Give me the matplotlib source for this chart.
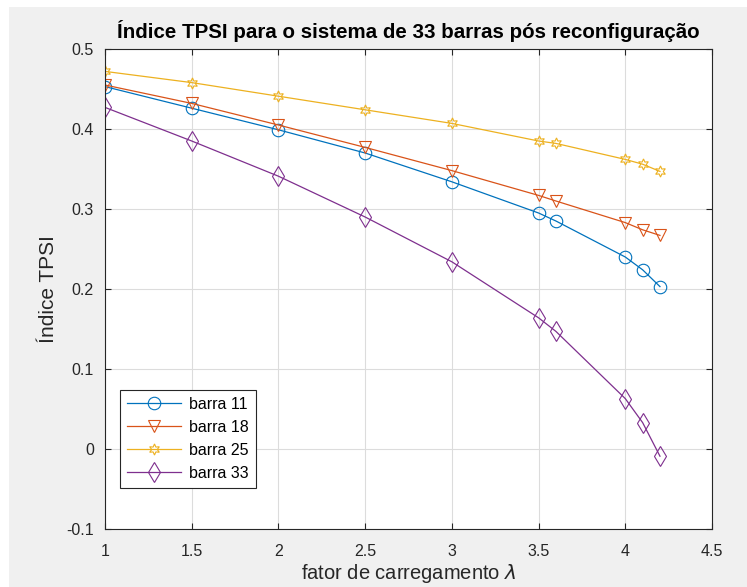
import matplotlib.pyplot as plt
from matplotlib.patches import Rectangle

# fator de carregamento (lambda)
lam = [1, 1.5, 2, 2.5, 3, 3.5, 3.6, 4, 4.1, 4.2]

barra11 = [0.453, 0.426, 0.399, 0.370, 0.334, 0.295, 0.285, 0.240, 0.224, 0.203]
barra18 = [0.455, 0.432, 0.405, 0.377, 0.348, 0.317, 0.310, 0.283, 0.274, 0.267]
barra25 = [0.472, 0.458, 0.441, 0.424, 0.407, 0.385, 0.382, 0.362, 0.356, 0.347]
barra33 = [0.427, 0.385, 0.341, 0.290, 0.234, 0.164, 0.147, 0.063, 0.033, -0.009]

labels = ["barra 11", "barra 18", "barra 25", "barra 33"]
xticks = [1, 1.5, 2, 2.5, 3, 3.5, 4, 4.5]
yticks = [-0.1, 0, 0.1, 0.2, 0.3, 0.4, 0.5]

plt.rcParams["font.family"] = ["Liberation Sans", "DejaVu Sans"]

fig = plt.figure(figsize=(7.47, 5.87), dpi=100, facecolor="white")
# grey matlab-like canvas
fig.patches.append(Rectangle((9 / 747, 0), 1, 1 - 7 / 587, transform=fig.transFigure,
                             facecolor="#f0f0f0", edgecolor="none", zorder=-10))

ax = fig.add_axes([105 / 747, 58 / 587, 607 / 747, 480 / 587])
ax.set_facecolor("white")

styles = [
    (barra11, "#0072BD", "o", 9),
    (barra18, "#D95319", "v", 9),
    (barra25, "#EDB120", (6, 1, 0), 8),
    (barra33, "#7E2F8E", "d", 10),
]
for (vals, color, marker, ms), label in zip(styles, labels):
    ax.plot(lam, vals, color=color, marker=marker, markersize=ms,
            markerfacecolor="none", markeredgewidth=0.8, linewidth=0.9, label=label)

ax.set_xlim(1, 4.5)
ax.set_ylim(-0.1, 0.5)
ax.set_xticks(xticks)
ax.set_xticklabels(["1", "1.5", "2", "2.5", "3", "3.5", "4", "4.5"])
ax.set_yticks(yticks)
ax.set_yticklabels(["-0.1", "0", "0.1", "0.2", "0.3", "0.4", "0.5"])
ax.tick_params(direction="in", top=True, right=True, labelsize=11.5,
               colors="#262626", length=4, width=0.8)
ax.tick_params(axis="x", pad=11)
ax.tick_params(axis="y", pad=8)
ax.grid(True, color="#dcdcdc", linewidth=0.8)
ax.set_axisbelow(True)
for sp in ax.spines.values():
    sp.set_color("#262626")
    sp.set_linewidth(0.8)

ax.set_title("Índice TPSI para o sistema de 33 barras pós reconfiguração",
             fontsize=14.8, fontweight="bold", pad=8)
ax.set_xlabel(r"fator de carregamento $\lambda$", fontsize=14.5, color="#262626", labelpad=2)
ax.set_ylabel("Índice TPSI", fontsize=15, color="#262626", labelpad=6)

leg = ax.legend(loc="lower left", bbox_to_anchor=(15 / 607, 41 / 480), borderaxespad=0,
                fontsize=11.5, fancybox=False, framealpha=1, edgecolor="#262626",
                handlelength=3.4, borderpad=0.45, labelspacing=0.5, handletextpad=0.45)
leg.get_frame().set_linewidth(0.8)

fig.savefig("out.png", dpi=100, facecolor=fig.get_facecolor())
